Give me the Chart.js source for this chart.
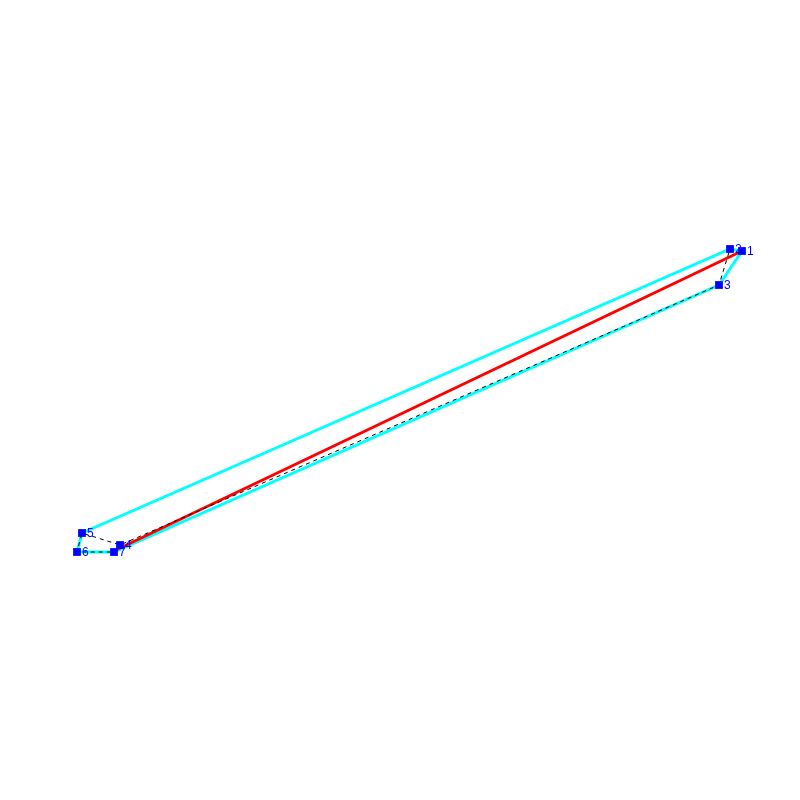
<!DOCTYPE html>
<html>
<head>
<meta charset="utf-8">
<title>Polygon</title>
<script src="https://cdn.jsdelivr.net/npm/chart.js@4"></script>
<style>
  html, body { margin: 0; padding: 0; background: #fff; }
  canvas { display: block; }
</style>
</head>
<body>
<canvas id="chart" width="800" height="800"></canvas>
<script>
// values
const vertexLabels = ["1", "2", "3", "4", "5", "6", "7"];
const vertexX      = [742, 730, 719, 120, 82, 77, 114];
const vertexY      = [251, 249, 285, 545, 533, 552, 552];

// hull is walked by vertex index, dashed line goes through them in order
const hullOrder   = [0, 2, 6, 5, 4, 1, 0];
const dashedOrder = [0, 1, 2, 3, 4, 5, 6];
const redX = [742, 116];
const redY = [251, 550];

const pick = order => order.map(i => ({ x: vertexX[i], y: vertexY[i] }));

// ── Vertex numbers ──
const vertexLabelPlugin = {
  id: "vertexLabels",
  afterDatasetsDraw(chart) {
    const { ctx, scales } = chart;
    ctx.save();
    ctx.fillStyle = "#0000ff";
    ctx.font = "12px 'Liberation Sans'";
    ctx.textBaseline = "middle";
    vertexLabels.forEach((t, i) => {
      ctx.fillText(t, scales.x.getPixelForValue(vertexX[i]) + 5, scales.y.getPixelForValue(vertexY[i]) + 0.5);
    });
    ctx.restore();
  },
};

new Chart(document.getElementById("chart"), {
  type: "scatter",
  data: {
    datasets: [
      {
        label: "vertices",
        data: pick(dashedOrder),
        showLine: false,
        pointStyle: "rect",
        pointRadius: 5.5,
        pointBackgroundColor: "#0000ff",
        pointBorderWidth: 0,
        order: 0,
      },
      {
        label: "dashed",
        data: pick(dashedOrder),
        showLine: true,
        borderColor: "#000000",
        borderWidth: 1,
        borderDash: [4, 4],
        pointRadius: 0,
        order: 1,
      },
      {
        label: "diagonal",
        data: redX.map((x, i) => ({ x, y: redY[i] })),
        showLine: true,
        borderColor: "#ff0000",
        borderWidth: 3,
        pointRadius: 0,
        order: 2,
      },
      {
        label: "hull",
        data: pick(hullOrder),
        showLine: true,
        borderColor: "#00ffff",
        borderWidth: 3,
        pointRadius: 0,
        order: 3,
      },
    ],
  },
  options: {
    responsive: false,
    animation: false,
    layout: { padding: 0, autoPadding: false },
    plugins: { legend: { display: false }, tooltip: { enabled: false } },
    scales: {
      x: { type: "linear", min: 0, max: 800, display: false },
      y: { type: "linear", min: 0, max: 800, reverse: true, display: false },
    },
  },
  plugins: [vertexLabelPlugin],
});
</script>
</body>
</html>
